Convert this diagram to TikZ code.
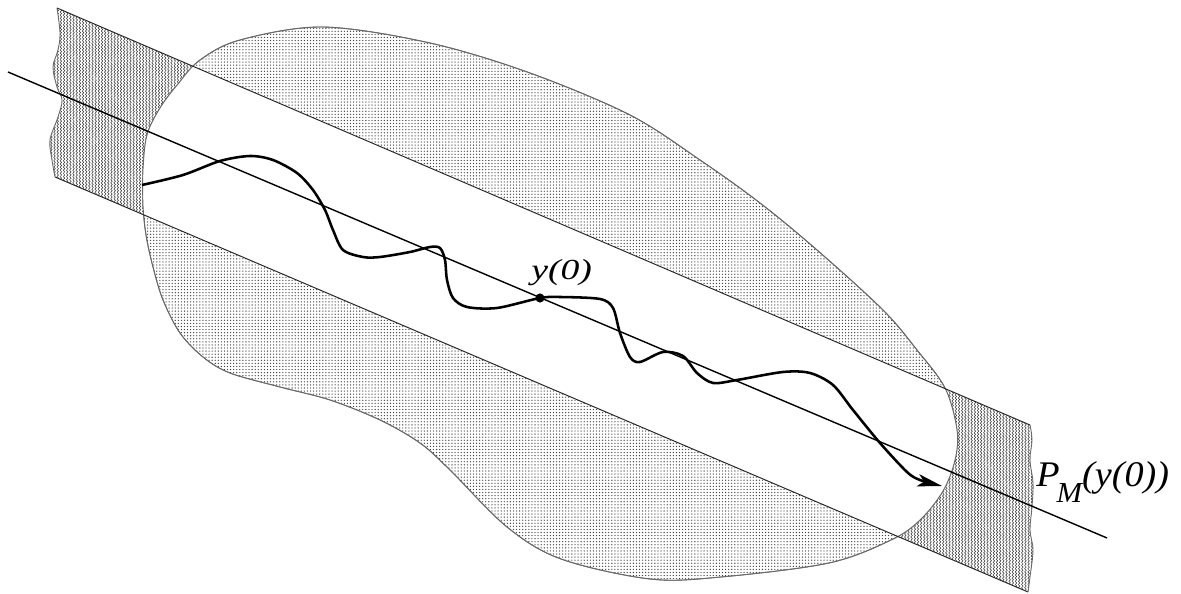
\documentclass[tikz,border=0pt]{standalone}
\usepackage{fontspec}
\setmainfont{Liberation Serif}
\usepackage{graphicx}
\usetikzlibrary{arrows.meta, patterns, patterns.meta}
\definecolor{blobedge}{RGB}{105,105,105}
\definecolor{zzgray}{RGB}{55,55,55}
\pgfdeclarepatternformonly{zigzag}{\pgfpoint{-0.5pt}{-0.5pt}}{\pgfpoint{2.3pt}{2.3pt}}{\pgfpoint{1.8pt}{1.8pt}}{%
  \pgfsetlinewidth{0.3pt}%
  \pgfpathmoveto{\pgfpoint{0pt}{0pt}}%
  \pgfpathlineto{\pgfpoint{0.9pt}{0.9pt}}%
  \pgfpathlineto{\pgfpoint{0pt}{1.8pt}}%
  \pgfusepath{stroke}}
\newcommand{\blobshape}{plot[smooth cycle, tension=0.55] coordinates {
  (323,27) (430,43) (530,73) (630,115) (700,160) (760,203) (817,250)
  (883,310) (917,350) (945,388) (957,430) (955,460) (943,491) (920,520)
  (891,540) (829,563) (721,577) (650,579) (561,559) (507,527) (450,470)
  (420,443) (380,420) (330,400) (280,387) (230,373) (203,357) (180,333)
  (163,300) (153,267) (146,235) (143,205) (143,170) (147,135) (160,108)
  (178,84) (200,60) (240,40)}}
\newcommand{\tubeshape}{(57,8) -- (1030,425)
  -- plot[smooth, tension=0.6] coordinates {(1030,425) (1032,440) (1030,460)
     (1033,483) (1032,507) (1030,530) (1033,550) (1030,577) (1028,592)}
  -- (55,177)
  -- plot[smooth, tension=0.6] coordinates {(55,177) (52,160) (50,140) (58,117)
     (62,100) (57,87) (53,67) (58,50) (60,33) (57,8)} -- cycle}
\tikzset{
  blob/.style={draw=blobedge, line width=0.5pt,
    pattern={Dots[distance=1.75pt, radius=0.38pt]}, pattern color=black!75},
  tubeend/.style={pattern=zigzag, pattern color=zzgray},
  tubeedge/.style={line width=0.55pt, color=black!85},
  wavyedge/.style={line width=0.5pt, color=blobedge},
  axisline/.style={line width=0.8pt, color=black},
  traj/.style={line width=1.45pt, line join=round,
    -{Stealth[length=14pt, width=7pt, inset=3.5pt]}},
  lbl/.style={inner sep=0pt, font=\itshape}
}

\begin{document}
\begin{tikzpicture}[x=0.02cm, y=-0.02cm]
  \useasboundingbox (0,0) rectangle (1181,594);
  % tube ends, region, white inside
  \fill[tubeend] \tubeshape;
  \fill[white] \blobshape;
  \path[blob] \blobshape;
  \begin{scope}
    \clip \blobshape;
    \fill[white] \tubeshape;
  \end{scope}
  \draw[blobedge, line width=0.5pt] \blobshape;
  \draw[tubeedge] (57,8) -- (1030,425);
  \draw[tubeedge] (55,177) -- (1028,592);
  \draw[wavyedge] plot[smooth, tension=0.6] coordinates {(55,177) (52,160) (50,140) (58,117)
     (62,100) (57,87) (53,67) (58,50) (60,33) (57,8)};
  \draw[wavyedge] plot[smooth, tension=0.6] coordinates {(1030,425) (1032,440) (1030,460)
     (1033,483) (1032,507) (1030,530) (1033,550) (1030,577) (1028,592)};
  % axis of the tube
  \coordinate (axstart) at (8,72);
  \coordinate (axend) at (1107,538);
  \draw[axisline] (axstart) -- (axend);
  % trajectory
  \coordinate (y0) at (540,298);
  \draw[traj] plot[smooth, tension=0.5] coordinates {
    (142,185) (183,175) (220,161) (250,156) (273,160) (297,173) (313,190)
    (325,210) (333,230) (343,250) (363,257) (380,257) (410,252) (430,247)
    (440,248) (445,260) (447,280) (453,298) (467,307) (497,308) (540,298)
    (560,297) (600,299) (613,308) (620,333) (630,357) (640,362) (663,352)
    (683,356) (697,373) (713,383) (737,380) (783,372) (810,373) (833,385)
    (853,410) (880,443) (907,472) (920,480) (942,486)};
  \fill (y0) circle (2.6pt);
  \node[lbl, anchor=base west] (ylab) at (531,280)
    {\scalebox{1.3}[1]{\fontsize{16.5pt}{18pt}\selectfont y(0)}};
  \node[lbl, anchor=base west] (pmlab) at (1036,487)
    {\scalebox{1.06}[1]{\fontsize{20.5pt}{24pt}\selectfont P\kern-0.08em\raisebox{-0.42em}{\fontsize{16.5pt}{17pt}\selectfont M}(y(0))}};
\end{tikzpicture}
\end{document}
